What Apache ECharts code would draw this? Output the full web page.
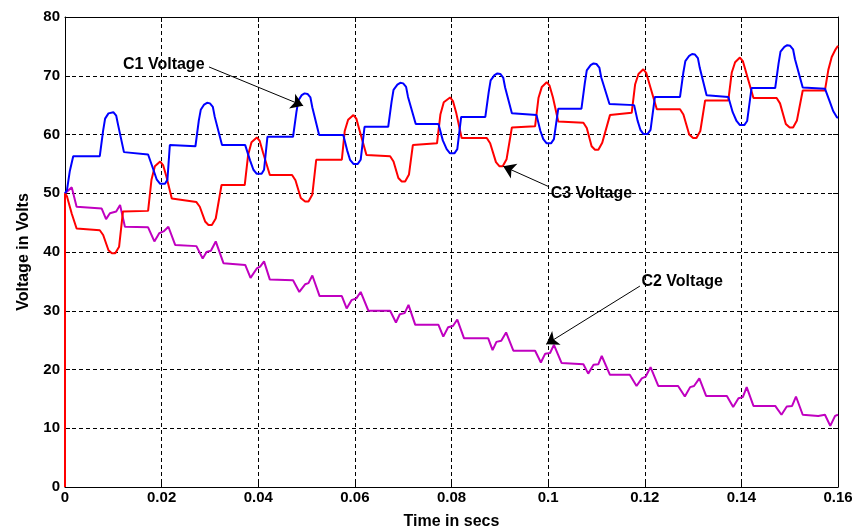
<!DOCTYPE html>
<html>
<head>
<meta charset="utf-8">
<script src="https://cdn.jsdelivr.net/npm/echarts@6/dist/echarts.min.js"></script>
<style>html,body{margin:0;padding:0;background:#fff;}#chart{width:857px;height:531px;}</style>
</head>
<body>
<div id="chart"></div>
<script>
// X axis (time in secs) ticks
var xTicks = [0, 0.02, 0.04, 0.06, 0.08, 0.1, 0.12, 0.14, 0.16];
var yTicks = [0, 10, 20, 30, 40, 50, 60, 70, 80];

// C1 Voltage (blue) [t, V]
var c1 = [
[0.0000,50.0],[0.0004,50.5],[0.0010,53.8],[0.0017,56.3],[0.0072,56.3],[0.0079,60.7],[0.0083,62.7],[0.0090,63.6],[0.0094,63.9],[0.0100,63.8],[0.0106,63.2],[0.0110,61.6],[0.0122,57.0],[0.0172,56.6],[0.0183,54.0],[0.0190,52.3],[0.0197,51.6],[0.0207,51.6],[0.0212,52.3],[0.0217,58.2],
[0.0270,58.0],[0.0277,62.4],[0.0281,64.2],[0.0288,65.1],[0.0294,65.4],[0.0300,65.3],[0.0306,64.7],[0.0310,63.0],[0.0325,58.2],[0.0373,58.2],[0.0383,55.6],[0.0390,54.0],[0.0397,53.3],[0.0407,53.3],[0.0412,54.0],[0.0419,59.6],
[0.0472,59.6],[0.0479,63.8],[0.0483,65.8],[0.0490,66.7],[0.0496,67.0],[0.0502,66.9],[0.0508,66.3],[0.0512,64.6],[0.0526,59.9],[0.0576,59.9],[0.0584,57.3],[0.0590,55.7],[0.0597,55.0],[0.0606,55.0],[0.0612,55.7],[0.0620,61.3],
[0.0669,61.3],[0.0676,65.6],[0.0680,67.6],[0.0688,68.5],[0.0694,68.8],[0.0700,68.7],[0.0706,68.1],[0.0710,66.4],[0.0726,61.8],[0.0773,61.8],[0.0782,59.0],[0.0790,57.5],[0.0797,56.8],[0.0806,56.8],[0.0812,57.5],[0.0820,63.0],
[0.0870,63.0],[0.0877,67.2],[0.0881,69.2],[0.0889,70.1],[0.0895,70.4],[0.0901,70.3],[0.0907,69.7],[0.0911,68.0],[0.0925,63.6],[0.0976,63.3],[0.0984,60.6],[0.0990,59.2],[0.0997,58.5],[0.1006,58.5],[0.1012,59.2],[0.1021,64.4],
[0.1069,64.4],[0.1076,68.8],[0.1080,70.9],[0.1088,71.8],[0.1094,72.1],[0.1100,72.0],[0.1106,71.4],[0.1110,69.7],[0.1127,65.2],[0.1178,65.0],[0.1185,62.4],[0.1191,60.8],[0.1197,60.1],[0.1206,60.1],[0.1212,60.8],[0.1221,66.4],
[0.1273,66.4],[0.1280,70.6],[0.1284,72.5],[0.1292,73.4],[0.1298,73.7],[0.1304,73.6],[0.1310,73.0],[0.1314,71.3],[0.1328,66.7],[0.1373,66.4],[0.1382,63.8],[0.1390,62.3],[0.1397,61.6],[0.1406,61.6],[0.1412,62.3],[0.1421,67.9],
[0.1470,67.9],[0.1477,72.1],[0.1481,74.1],[0.1489,74.9],[0.1495,75.2],[0.1501,75.1],[0.1507,74.5],[0.1511,72.8],[0.1527,68.0],[0.1573,67.8],[0.1582,65.8],[0.1590,64.0],[0.1598,62.9],[0.1600,62.9]
];

// C2 Voltage (magenta) [t, V]
var c2 = [
[0.0000,50.0],[0.0014,51.0],[0.0024,47.7],[0.0076,47.4],[0.0085,45.6],[0.0093,46.6],[0.0106,46.9],[0.0114,48.0],[0.0124,44.3],[0.0172,44.2],[0.0185,41.8],[0.0195,43.2],[0.0204,43.5],[0.0214,44.3],[0.0228,41.2],
[0.0272,41.0],[0.0285,38.9],[0.0293,40.0],[0.0302,40.2],[0.0312,41.8],[0.0328,38.1],[0.0373,37.8],[0.0384,35.6],[0.0397,37.2],[0.0404,37.5],[0.0412,38.4],[0.0424,35.3],
[0.0472,35.2],[0.0485,33.2],[0.0497,34.5],[0.0504,34.7],[0.0512,36.0],[0.0527,32.5],[0.0573,32.5],[0.0583,30.4],[0.0593,31.8],[0.0603,32.1],[0.0612,33.2],[0.0628,30.0],
[0.0673,30.0],[0.0685,28.0],[0.0693,29.4],[0.0703,29.6],[0.0711,31.0],[0.0725,27.6],[0.0773,27.6],[0.0783,25.6],[0.0793,27.2],[0.0803,27.4],[0.0812,28.5],[0.0826,25.3],
[0.0876,25.3],[0.0885,23.3],[0.0893,24.7],[0.0903,24.9],[0.0913,26.3],[0.0928,23.2],[0.0973,23.2],[0.0985,21.2],[0.0994,22.7],[0.1004,22.8],[0.1012,24.2],[0.1028,21.1],
[0.1073,20.9],[0.1083,19.3],[0.1094,20.8],[0.1104,20.9],[0.1111,22.3],[0.1128,19.1],[0.1169,19.1],[0.1183,17.2],[0.1194,18.5],[0.1202,18.8],[0.1212,20.4],[0.1228,17.2],
[0.1269,17.2],[0.1283,15.4],[0.1294,17.0],[0.1302,17.2],[0.1313,18.5],[0.1327,15.5],[0.1370,15.5],[0.1383,13.6],[0.1394,15.1],[0.1403,15.3],[0.1411,17.0],[0.1425,13.8],
[0.1470,13.8],[0.1483,12.3],[0.1494,13.7],[0.1505,13.8],[0.1513,15.4],[0.1527,12.3],[0.1559,12.1],[0.1573,12.3],[0.1584,10.4],[0.1594,12.1],[0.1600,12.3]
];

// C3 Voltage (red) [t, V]
var c3 = [
[0.0000,0.0],[0.0000,50.0],[0.0004,49.5],[0.0014,46.5],[0.0024,44.0],[0.0072,43.7],[0.0079,42.9],[0.0090,40.3],[0.0097,39.8],[0.0104,39.8],[0.0112,40.9],[0.0120,46.9],[0.0172,47.0],[0.0179,52.3],[0.0186,54.6],[0.0197,55.4],[0.0203,54.8],[0.0210,52.8],[0.0221,49.1],
[0.0272,48.5],[0.0279,47.7],[0.0290,45.2],[0.0297,44.6],[0.0304,44.6],[0.0312,45.7],[0.0324,51.4],[0.0372,51.4],[0.0379,56.5],[0.0386,58.7],[0.0397,59.5],[0.0403,58.9],[0.0410,56.9],[0.0424,53.1],
[0.0470,53.1],[0.0477,52.2],[0.0488,49.2],[0.0497,48.6],[0.0504,48.6],[0.0512,49.8],[0.0520,55.7],[0.0573,55.7],[0.0579,60.6],[0.0586,62.5],[0.0597,63.3],[0.0603,62.7],[0.0610,60.6],[0.0624,56.5],
[0.0673,56.3],[0.0680,55.4],[0.0690,52.6],[0.0697,52.0],[0.0704,52.0],[0.0712,53.2],[0.0720,58.2],[0.0770,58.5],[0.0777,63.4],[0.0784,65.5],[0.0797,66.3],[0.0803,65.7],[0.0810,63.6],[0.0821,59.4],
[0.0873,59.4],[0.0880,58.5],[0.0892,55.3],[0.0899,54.6],[0.0906,54.6],[0.0914,55.8],[0.0925,61.2],[0.0973,61.4],[0.0980,66.2],[0.0987,68.1],[0.0997,68.9],[0.1003,68.3],[0.1010,66.3],[0.1021,62.2],
[0.1073,62.0],[0.1080,61.1],[0.1090,58.0],[0.1097,57.4],[0.1104,57.4],[0.1112,58.6],[0.1128,63.3],[0.1173,63.7],[0.1180,68.5],[0.1187,70.3],[0.1197,71.1],[0.1203,70.5],[0.1210,68.5],[0.1225,64.3],
[0.1273,64.3],[0.1280,63.4],[0.1292,60.0],[0.1300,59.4],[0.1307,59.4],[0.1315,60.6],[0.1325,65.8],[0.1373,65.8],[0.1380,70.5],[0.1387,72.3],[0.1397,73.1],[0.1403,72.5],[0.1410,70.5],[0.1425,66.2],
[0.1473,66.2],[0.1480,65.3],[0.1492,61.8],[0.1500,61.2],[0.1507,61.2],[0.1515,62.4],[0.1527,67.5],[0.1573,67.5],[0.1580,71.0],[0.1587,73.2],[0.1595,74.5],[0.1600,75.1]
];

// Annotation labels and arrows (data coordinates)
var annLabels = [
  {text: 'C1 Voltage', at: [0.0294, 71.9], side: 'left'},
  {text: 'C3 Voltage', at: [0.1000, 50.0], side: 'right'},
  {text: 'C2 Voltage', at: [0.1188, 35.0], side: 'right'}
];
var annArrows = [
  {from: [0.0298, 71.5], to: [0.0493, 64.9]},
  {from: [0.1002, 51.1], to: [0.0907, 54.6]},
  {from: [0.1190, 34.2], to: [0.0996, 24.3]}
];

var FONT = 'Liberation Sans, Arial, sans-serif';
var chart = echarts.init(document.getElementById('chart'), null, {renderer: 'canvas'});

var tickStyle = {show: true, inside: true, length: 5, lineStyle: {color: '#000', width: 1}};
var gridLine = {show: true, lineStyle: {color: '#000', width: 1, type: [4, 3]}};

chart.setOption({
  animation: false,
  backgroundColor: '#fff',
  grid: {left: 65, right: 19, top: 17, bottom: 44, containLabel: false, outerBoundsMode: 'none'},
  xAxis: [{
    type: 'value', min: xTicks[0], max: xTicks[xTicks.length - 1], interval: 0.02,
    name: 'Time in secs', nameLocation: 'middle', nameGap: 27,
    nameTextStyle: {fontFamily: FONT, fontWeight: 'bold', fontSize: 16, color: '#000'},
    axisLine: {show: true, onZero: false, lineStyle: {color: '#000', width: 1}},
    axisTick: tickStyle,
    axisLabel: {fontFamily: FONT, fontWeight: 'bold', fontSize: 15, color: '#000', margin: 3,
      formatter: function (v) { return String(+v.toFixed(2)); }},
    splitLine: gridLine
  }, {
    type: 'value', position: 'top', min: xTicks[0], max: xTicks[xTicks.length - 1], interval: 0.02,
    axisLine: {show: true, onZero: false, lineStyle: {color: '#000', width: 1}},
    axisTick: tickStyle, axisLabel: {show: false}, splitLine: {show: false}
  }],
  yAxis: [{
    type: 'value', min: yTicks[0], max: yTicks[yTicks.length - 1], interval: 10,
    name: 'Voltage in Volts', nameLocation: 'middle', nameGap: 33,
    nameTextStyle: {fontFamily: FONT, fontWeight: 'bold', fontSize: 16, color: '#000'},
    axisLine: {show: true, onZero: false, lineStyle: {color: '#000', width: 1}},
    axisTick: tickStyle,
    axisLabel: {fontFamily: FONT, fontWeight: 'bold', fontSize: 15, color: '#000', margin: 5},
    splitLine: gridLine
  }, {
    type: 'value', position: 'right', min: yTicks[0], max: yTicks[yTicks.length - 1], interval: 10,
    axisLine: {show: true, onZero: false, lineStyle: {color: '#000', width: 1}},
    axisTick: tickStyle, axisLabel: {show: false}, splitLine: {show: false}
  }],
  series: [
    {name: 'C2 Voltage', type: 'line', data: c2, showSymbol: false,
      lineStyle: {color: '#c000c0', width: 2}, itemStyle: {color: '#c000c0'}, silent: true},
    {name: 'C3 Voltage', type: 'line', data: c3, showSymbol: false,
      lineStyle: {color: '#ff0000', width: 2}, itemStyle: {color: '#ff0000'}, silent: true},
    {name: 'C1 Voltage', type: 'line', data: c1, showSymbol: false,
      lineStyle: {color: '#0000ff', width: 2}, itemStyle: {color: '#0000ff'}, silent: true,
      markLine: {
        silent: true, symbol: ['none', 'arrow'], symbolSize: 12, precision: 4,
        label: {show: false},
        itemStyle: {color: '#000'},
        lineStyle: {color: '#000', width: 1, type: 'solid'},
        emphasis: {disabled: true},
        data: annArrows.map(function (a) {
          return [{coord: a.from, symbol: 'none'}, {coord: a.to, symbol: 'arrow', symbolSize: 12}];
        })
      },
      markPoint: {
        silent: true, symbol: 'circle', symbolSize: 1,
        itemStyle: {color: 'rgba(0,0,0,0)'},
        data: annLabels.map(function (l) {
          return {coord: l.at, value: l.text,
            label: {show: true, position: l.side, distance: 2, formatter: l.text,
              fontFamily: FONT, fontWeight: 'bold', fontSize: 16, color: '#000'}};
        })
      }
    }
  ]
});
</script>
</body>
</html>
